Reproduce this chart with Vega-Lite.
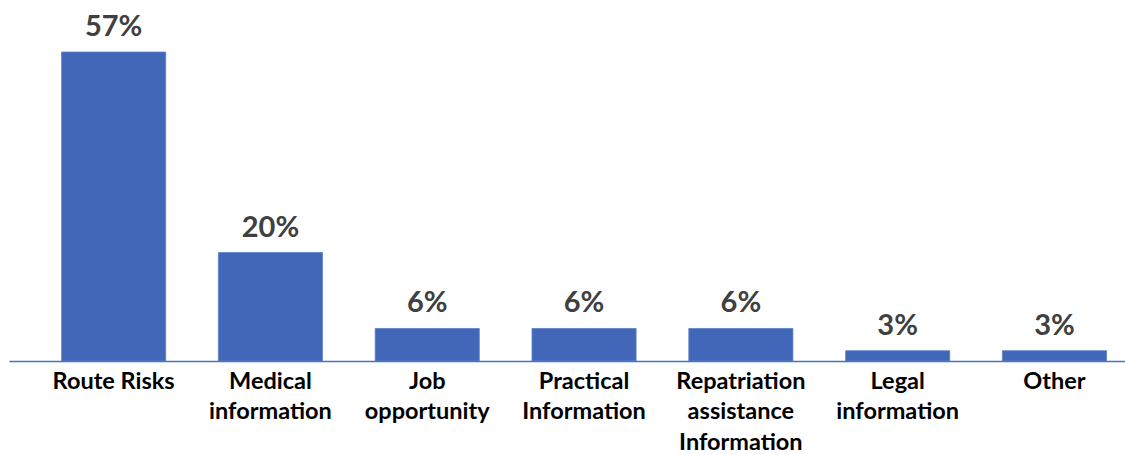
{
  "$schema": "https://vega.github.io/schema/vega-lite/v6.json",
  "width": 1116,
  "height": 361,
  "autosize": "none",
  "padding": {"left": 9, "top": 0, "right": 0, "bottom": 94},
  "background": "white",
  "config": {"view": {"stroke": null}},
  "data": {
    "values": [
      {"category": "Route Risks", "value": 57, "label": "57%"},
      {"category": "Medical information", "value": 20, "label": "20%"},
      {"category": "Job opportunity", "value": 6, "label": "6%"},
      {"category": "Practical Information", "value": 6, "label": "6%"},
      {"category": "Repatriation assistance Information", "value": 6, "label": "6%"},
      {"category": "Legal information", "value": 1.9, "label": "3%"},
      {"category": "Other", "value": 1.9, "label": "3%"}
    ]
  },
  "encoding": {
    "x": {
      "field": "category",
      "type": "nominal",
      "sort": null,
      "scale": {"paddingInner": 0.336, "paddingOuter": 0.2266, "align": 0.74},
      "axis": {
        "title": null,
        "ticks": false,
        "labelAngle": 0,
        "domainColor": "#4472C4",
        "domainWidth": 1.5,
        "labelFont": "Lato",
        "labelFontWeight": "bold",
        "labelFontSize": 23.5,
        "labelColor": "#000000",
        "labelBaseline": "alphabetic",
        "labelPadding": 27,
        "labelLineHeight": 30.5,
        "labelLimit": 300,
        "labelExpr": "datum.value == 'Route Risks' ? datum.value : split(datum.value, ' ')"
      }
    },
    "y": {
      "field": "value",
      "type": "quantitative",
      "scale": {"domain": [0, 66.6], "nice": false, "zero": true},
      "axis": null
    }
  },
  "layer": [
    {"mark": {"type": "bar", "color": "#4267B8", "stroke": "#5B7FC8", "strokeWidth": 0.8}},
    {
      "mark": {
        "type": "text",
        "baseline": "alphabetic",
        "dy": -16,
        "font": "Lato",
        "fontWeight": "bold",
        "fontSize": 29,
        "color": "#404040"
      },
      "encoding": {"text": {"field": "label"}}
    }
  ]
}
